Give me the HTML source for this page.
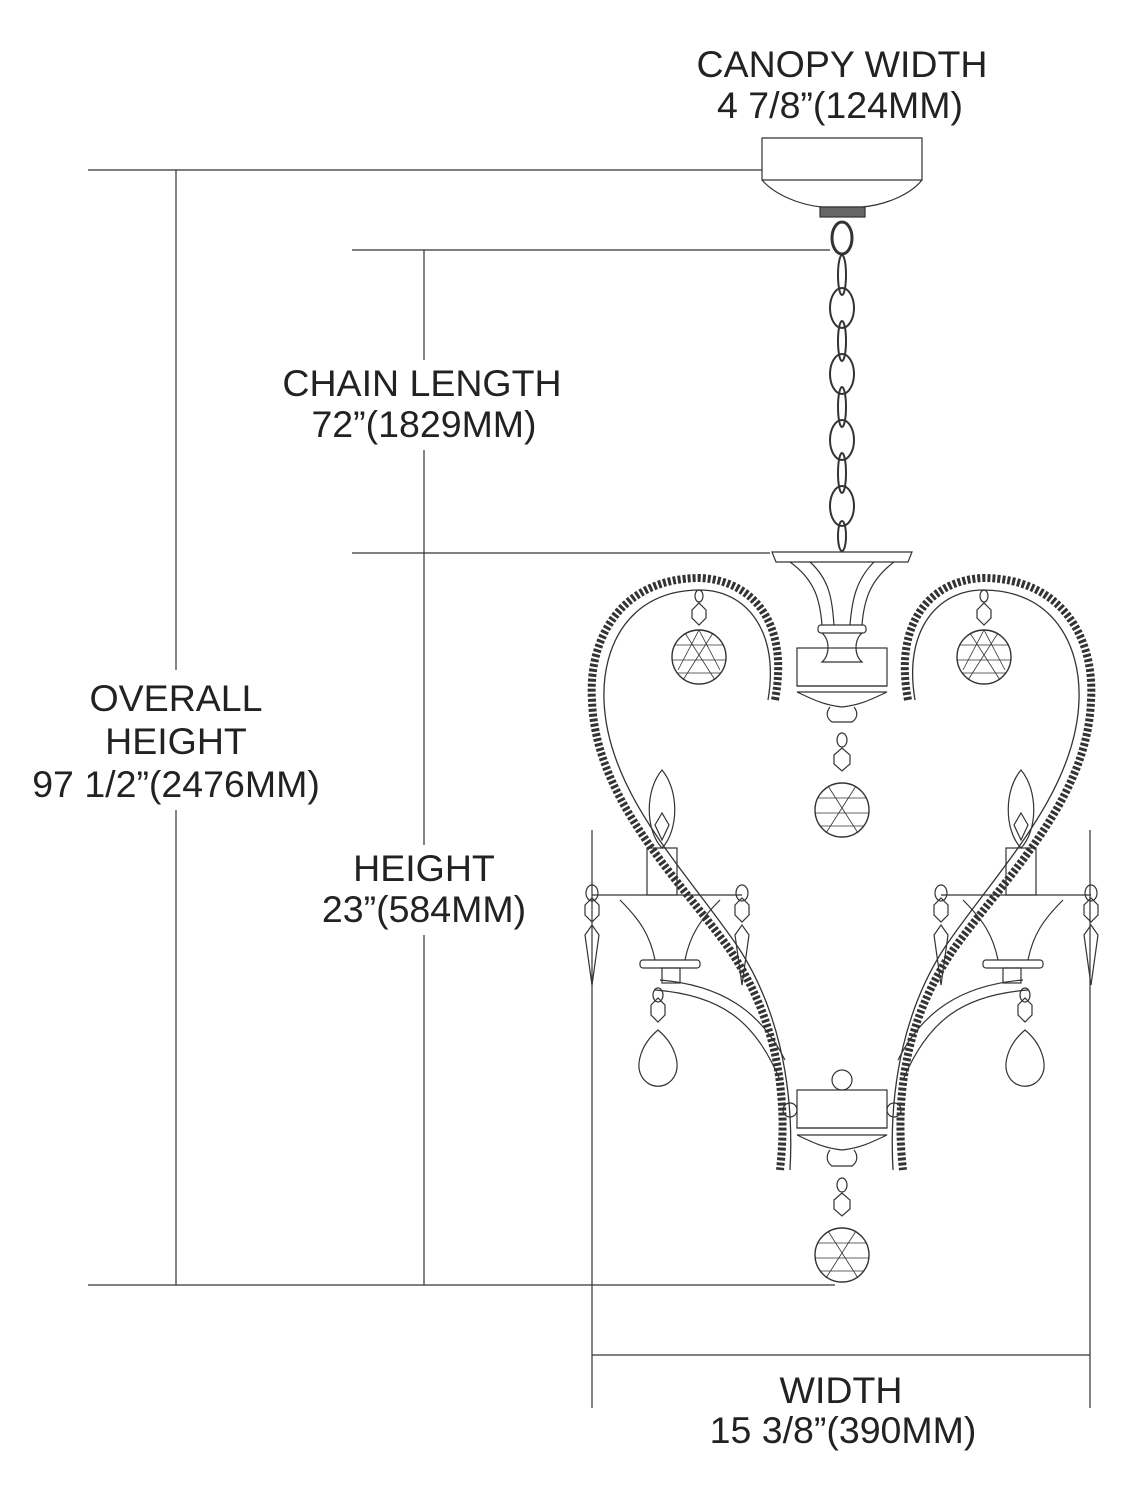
<!DOCTYPE html>
<html><head><meta charset="utf-8"><style>
html,body{margin:0;padding:0;background:#fff}
svg{display:block}
text{font-family:"Liberation Sans",Arial,sans-serif;font-size:37.5px;fill:#222;text-anchor:middle}
</style></head><body>
<svg width="1129" height="1500" viewBox="0 0 1129 1500" xmlns="http://www.w3.org/2000/svg">
<g stroke="#333" stroke-width="1.2" fill="none">
<line x1="88" y1="170" x2="762" y2="170"/>
<line x1="352" y1="250" x2="830" y2="250"/>
<line x1="352" y1="553" x2="770" y2="553"/>
<line x1="88" y1="1285" x2="835" y2="1285"/>
<line x1="176" y1="170" x2="176" y2="670"/>
<line x1="176" y1="810" x2="176" y2="1285"/>
<line x1="424" y1="250" x2="424" y2="360"/>
<line x1="424" y1="450" x2="424" y2="845"/>
<line x1="424" y1="935" x2="424" y2="1285"/>
<line x1="592" y1="830" x2="592" y2="1408"/>
<line x1="1090" y1="830" x2="1090" y2="1408"/>
<line x1="592" y1="1355" x2="1090" y2="1355"/>
<path d="M762 138 H922 V180 H762 Z"/>
<path d="M762 180 C775 195 800 205 822 207 H862 C885 205 910 195 922 180"/>
<rect x="820" y="207" width="45" height="10" fill="#666"/>
<ellipse cx="842" cy="238" rx="10" ry="16" stroke-width="3"/>
<g stroke-width="2">
<ellipse cx="842" cy="275" rx="4" ry="20"/>
<ellipse cx="842" cy="308" rx="12" ry="20"/>
<ellipse cx="842" cy="341" rx="4" ry="20"/>
<ellipse cx="842" cy="374" rx="12" ry="20"/>
<ellipse cx="842" cy="407" rx="4" ry="20"/>
<ellipse cx="842" cy="440" rx="12" ry="20"/>
<ellipse cx="842" cy="473" rx="4" ry="20"/>
<ellipse cx="842" cy="506" rx="12" ry="20"/>
<ellipse cx="842" cy="536" rx="4" ry="15"/>
</g>
<path d="M772 552 H912 L908 562 H776 Z"/>
<path d="M790 562 C815 580 820 600 822 625 M894 562 C870 580 864 600 862 625"/>
<path d="M810 562 C830 580 832 600 834 625 M874 562 C856 580 852 600 850 625"/>
<rect x="818" y="625" width="48" height="8" rx="3"/>
<path d="M822 633 C830 640 830 655 822 662 H862 C854 655 854 640 862 633"/>
<rect x="797" y="648" width="90" height="38"/>
<path d="M797 686 H887 M797 692 H887 C870 700 860 705 842 707 C824 705 814 700 797 692"/>
<path d="M830 707 C826 712 826 718 832 722 H852 C858 718 858 712 854 707"/>
<g id="arm">
<path d="M775 700 C790 620 750 580 700 578 C620 578 588 640 592 700 C595 800 680 880 730 950 C770 1010 790 1080 780 1170" stroke="#333" stroke-width="8" stroke-dasharray="3 2"/>
<path d="M768 700 C780 630 745 590 700 590 C630 590 602 645 604 700 C607 795 690 875 740 950 C775 1005 795 1080 790 1170" stroke-width="1.3"/>
<path d="M592 895 H742"/>
<path d="M620 900 C640 920 650 935 655 960 M720 900 C700 920 690 935 685 960"/>
<rect x="640" y="960" width="60" height="8" rx="3"/>
<rect x="662" y="968" width="18" height="15"/>
<path d="M660 980 C720 985 760 1010 785 1060 M655 990 C720 995 755 1020 780 1080"/>
<rect x="647" y="848" width="30" height="47"/>
<path d="M662 848 C645 830 645 790 662 770 C679 790 679 830 662 848 Z"/>
<path d="M662 813 L655 825 L662 840 L669 825 Z"/>
<ellipse cx="592" cy="893" rx="6" ry="8"/>
<path d="M585 905 L592 898 L599 905 V915 L592 922 L585 915 Z"/>
<path d="M585 935 L592 985 L599 935 L592 925 Z"/>
<ellipse cx="742" cy="893" rx="6" ry="8"/>
<path d="M735 905 L742 898 L749 905 V915 L742 922 L735 915 Z"/>
<path d="M735 935 L742 985 L749 935 L742 925 Z"/>
<ellipse cx="658" cy="995" rx="5" ry="7"/>
<path d="M651 1005 L658 998 L665 1005 V1015 L658 1022 L651 1015 Z"/>
<path d="M658 1030 C640 1045 636 1065 641 1075 C648 1090 668 1090 675 1075 C680 1065 676 1045 658 1030 Z"/>
<ellipse cx="699" cy="596" rx="4" ry="6"/>
<path d="M692 610 L699 603 L706 610 V618 L699 625 L692 618 Z"/>
<circle cx="699" cy="657" r="27" stroke-width="1.4"/>
<path d="M675 645 H723 M672 660 H726 M677 673 H721 M685 633 L715 680 M713 633 L683 680 M699 630 L720 670 M699 630 L678 670" stroke-width="0.8"/>
</g>
<use href="#arm" transform="translate(1683 0) scale(-1 1)"/>
<ellipse cx="842" cy="740" rx="5" ry="7"/>
<path d="M834 755 L842 748 L850 755 V764 L842 771 L834 764 Z"/>
<circle cx="842" cy="810" r="27" stroke-width="1.4"/>
<path d="M818 798 H866 M815 813 H869 M820 826 H864 M828 786 L858 833 M856 786 L826 833" stroke-width="0.8"/>
<circle cx="842" cy="1080" r="10"/>
<rect x="797" y="1090" width="90" height="38"/>
<path d="M797 1128 H887 M797 1135 H887 C870 1143 860 1148 842 1150 C824 1148 814 1143 797 1135"/>
<path d="M830 1150 C826 1155 826 1162 832 1166 H852 C858 1162 858 1155 854 1150"/>
<circle cx="790" cy="1110" r="7"/><circle cx="894" cy="1110" r="7"/>
<ellipse cx="842" cy="1185" rx="5" ry="7"/>
<path d="M834 1200 L842 1193 L850 1200 V1209 L842 1216 L834 1209 Z"/>
<circle cx="842" cy="1255" r="27" stroke-width="1.4"/>
<path d="M818 1243 H866 M815 1258 H869 M820 1271 H864 M828 1231 L858 1278 M856 1231 L826 1278" stroke-width="0.8"/>
</g>
<text x="842" y="77">CANOPY WIDTH</text>
<text x="840" y="118">4 7/8”(124MM)</text>
<text x="422" y="396">CHAIN LENGTH</text>
<text x="424" y="437">72”(1829MM)</text>
<text x="176" y="711">OVERALL</text>
<text x="176" y="754">HEIGHT</text>
<text x="176" y="797">97 1/2”(2476MM)</text>
<text x="424" y="881">HEIGHT</text>
<text x="424" y="922">23”(584MM)</text>
<text x="841" y="1403">WIDTH</text>
<text x="843" y="1443">15 3/8”(390MM)</text>
</svg>
</body></html>
